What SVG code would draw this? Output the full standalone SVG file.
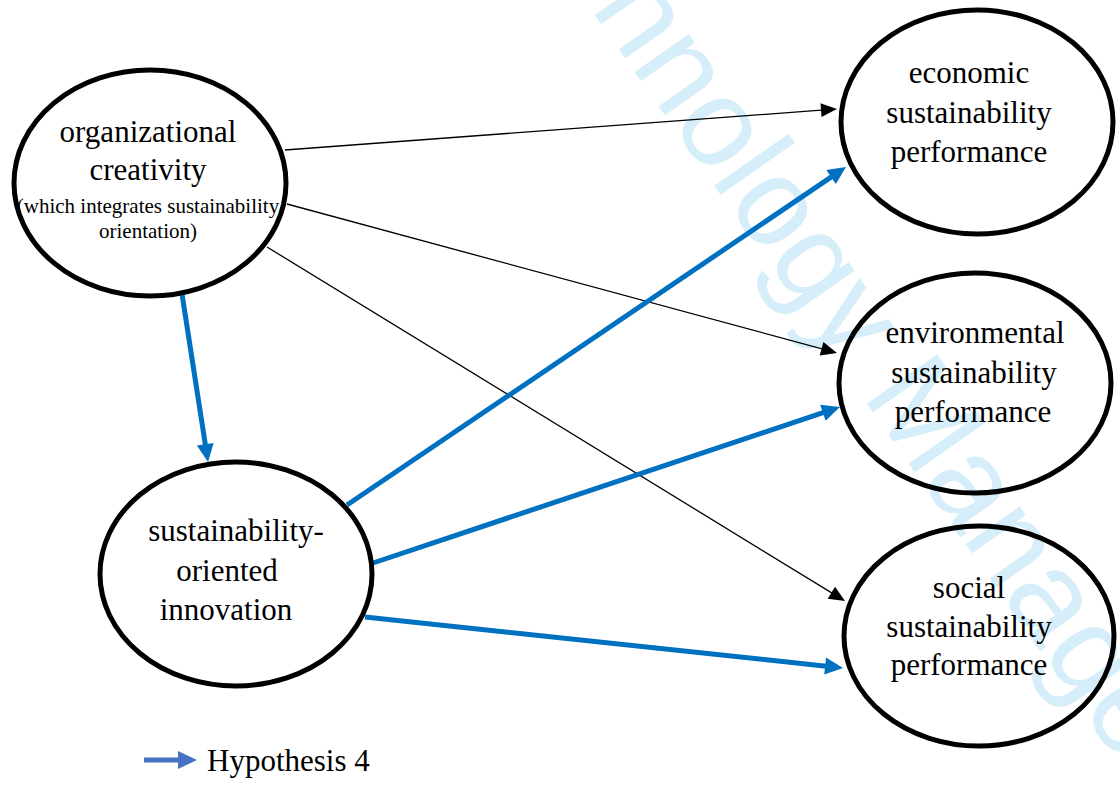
<svg xmlns="http://www.w3.org/2000/svg" width="1120" height="787" viewBox="0 0 1120 787">
  <style>
    .node { fill: none; stroke: #000; stroke-width: 5; }
    .label { font-family: "Liberation Serif", "Times New Roman", serif; font-size: 31px; fill: #000; text-anchor: middle; }
    .small { font-size: 21px; }
    .thin { stroke: #000; stroke-width: 1.3; fill: none; marker-end: url(#headBlack); }
    .hyp { stroke: #0070C0; stroke-width: 5; fill: none; marker-end: url(#headBlue); }
    .mark { font-family: "Liberation Sans", Arial, sans-serif; font-size: 125px; fill: #d5eefa; }
  </style>
  <defs>
    <marker id="headBlack" markerUnits="userSpaceOnUse" markerWidth="16" markerHeight="14" refX="10" refY="7" orient="auto" overflow="visible">
      <path d="M0,0 L16,7 L0,14 Z" fill="#000"/>
    </marker>
    <marker id="headBlue" markerUnits="userSpaceOnUse" markerWidth="18" markerHeight="17" refX="8" refY="8.5" orient="auto" overflow="visible">
      <path d="M0,0 L18,8.5 L0,17 Z" fill="#0070C0"/>
    </marker>
    <marker id="headLegend" markerUnits="userSpaceOnUse" markerWidth="19" markerHeight="18" refX="9" refY="9" orient="auto" overflow="visible">
      <path d="M0,0 L19,9 L0,18 Z" fill="#4472C4"/>
    </marker>
  </defs>

  <!-- background watermark -->
  <text class="mark" transform="translate(590,8) rotate(55)" x="0" y="0">nnology Manage</text>

  <!-- connectors -->
  <g id="connectors">
    <line class="thin" x1="285" y1="150" x2="831" y2="109.4"/>
    <line class="thin" x1="287" y1="204" x2="831.2" y2="351.4"/>
    <line class="thin" x1="267" y1="247" x2="839.9" y2="597.9"/>
    <line class="hyp" x1="182" y1="294" x2="206.5" y2="452.1"/>
    <line class="hyp" x1="347" y1="505" x2="837.7" y2="172.6"/>
    <line class="hyp" x1="373" y1="563" x2="830.5" y2="410.2"/>
    <line class="hyp" x1="365" y1="617" x2="833.1" y2="666.9"/>
  </g>

  <g id="node-creativity">
    <ellipse class="node" cx="150" cy="183" rx="136" ry="113"/>
    <text class="label" x="148" y="142">organizational</text>
    <text class="label" x="148" y="180">creativity</text>
    <text class="label small" x="148" y="213">(which integrates sustainability</text>
    <text class="label small" x="148" y="238">orientation)</text>
  </g>

  <g id="node-innovation">
    <ellipse class="node" cx="236" cy="574" rx="136" ry="112"/>
    <text class="label" x="236" y="541">sustainability-</text>
    <text class="label" x="227" y="581">oriented</text>
    <text class="label" x="226" y="620">innovation</text>
  </g>

  <g id="node-economic">
    <ellipse class="node" cx="977" cy="122" rx="136" ry="112"/>
    <text class="label" x="969" y="83">economic</text>
    <text class="label" x="969" y="123">sustainability</text>
    <text class="label" x="969" y="162">performance</text>
  </g>

  <g id="node-environmental">
    <ellipse class="node" cx="975" cy="383" rx="136" ry="110"/>
    <text class="label" x="975" y="343">environmental</text>
    <text class="label" x="974" y="383">sustainability</text>
    <text class="label" x="973" y="422">performance</text>
  </g>

  <g id="node-social">
    <ellipse class="node" cx="979" cy="636" rx="135" ry="110"/>
    <text class="label" x="969" y="598">social</text>
    <text class="label" x="969" y="637">sustainability</text>
    <text class="label" x="969" y="675">performance</text>
  </g>

  <g id="legend">
    <line x1="144" y1="760" x2="187" y2="760" stroke="#4472C4" stroke-width="5" marker-end="url(#headLegend)"/>
    <text class="label" x="207" y="771" text-anchor="start" style="text-anchor:start">Hypothesis 4</text>
  </g>
</svg>
